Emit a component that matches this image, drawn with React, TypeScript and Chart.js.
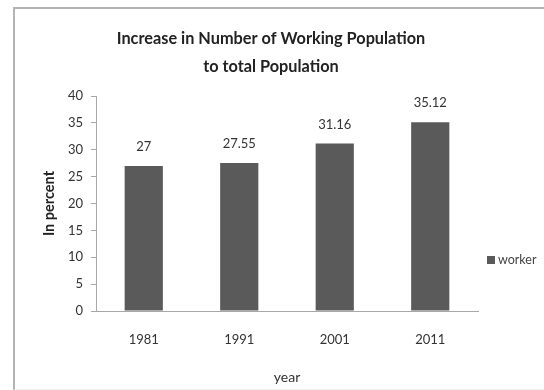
import React, { useEffect, useRef } from "react";
import { Chart, registerables } from "chart.js";

Chart.register(...registerables);

const categories: string[] = ["1981", "1991", "2001", "2011"];
const workerValues: number[] = [27, 27.55, 31.16, 35.12];
const valueLabels: string[] = ["27", "27.55", "31.16", "35.12"];
const seriesName = "worker";
const titleLines: string[] = ["Increase in Number of Working Population", "to total Population"];
const yAxisTitle = "In percent";
const xAxisTitle = "year";

const BAR_COLOR = "#5a5a5a";
const FONT = "Lato, 'Open Sans', sans-serif";

const valueLabelPlugin = {
  id: "valueLabels",
  afterDatasetsDraw(chart: any) {
    const { ctx } = chart;
    const meta = chart.getDatasetMeta(0);
    ctx.save();
    ctx.font = `13px ${FONT}`;
    ctx.fillStyle = "#333";
    ctx.textAlign = "center";
    ctx.textBaseline = "middle";
    meta.data.forEach((el: any, i: number) => {
      ctx.fillText(valueLabels[i], el.x, el.y - 19);
    });
    ctx.restore();
  },
};

const sideLegendPlugin = {
  id: "sideLegend",
  afterDraw(chart: any) {
    const { ctx } = chart;
    const ds = chart.data.datasets[0];
    ctx.save();
    ctx.fillStyle = ds.backgroundColor;
    ctx.fillRect(487, 256, 8, 8);
    ctx.font = `12.5px ${FONT}`;
    ctx.fillStyle = "#444";
    ctx.textAlign = "left";
    ctx.textBaseline = "middle";
    ctx.fillText(ds.label, 498, 260);
    ctx.restore();
  },
};

export default function App() {
  const canvasRef = useRef<HTMLCanvasElement | null>(null);

  useEffect(() => {
    document.body.style.margin = "0";
    const canvas = canvasRef.current;
    if (!canvas) return;
    const chart = new Chart(canvas, {
      type: "bar",
      data: {
        labels: categories,
        datasets: [
          {
            label: seriesName,
            data: workerValues,
            backgroundColor: BAR_COLOR,
            borderWidth: 0,
            barPercentage: 0.4,
            categoryPercentage: 1,
          },
        ],
      },
      options: {
        responsive: false,
        animation: false,
        layout: { padding: { left: 64, right: 66, top: 0, bottom: 0 } },
        plugins: {
          legend: { display: false },
          tooltip: { enabled: false },
          title: {
            display: true,
            text: titleLines,
            color: "#222",
            font: { family: FONT, size: 16.3, weight: "bold", lineHeight: 1.72 },
            padding: { top: 25, bottom: 15 },
          },
        },
        scales: {
          x: {
            grid: { display: false, drawTicks: false },
            border: { display: true, color: "#a8a8a8", width: 1 },
            ticks: { color: "#333", font: { family: FONT, size: 13 }, padding: 21 },
            title: {
              display: true,
              text: xAxisTitle,
              color: "#333",
              font: { family: FONT, size: 14 },
              padding: { top: 0, bottom: 4 },
            },
            afterFit: (scale: any) => {
              scale.height = 79;
            },
          },
          y: {
            min: 0,
            max: 40,
            ticks: { stepSize: 5, color: "#333", font: { family: FONT, size: 13 }, padding: 8 },
            grid: { drawOnChartArea: false, drawTicks: true, tickLength: 5, color: "#a8a8a8" },
            border: { display: true, color: "#a8a8a8", width: 1 },
            title: {
              display: true,
              text: yAxisTitle,
              color: "#222",
              font: { family: FONT, size: 14.5, weight: "bold" },
              padding: { top: -23.7, bottom: 0 },
            },
            afterFit: (scale: any) => {
              scale.width = 32;
            },
          },
        },
      },
      plugins: [valueLabelPlugin, sideLegendPlugin],
    });
    return () => chart.destroy();
  }, []);

  return (
    <div style={{ position: "relative", width: 544, height: 390, background: "#fff", overflow: "hidden" }}>
      <canvas ref={canvasRef} width={544} height={390} style={{ position: "absolute", left: 0, top: 0 }} />
      <div
        style={{
          position: "absolute",
          left: 13,
          top: 7,
          width: 560,
          height: 380,
          borderLeft: "2px solid #b4b4b4",
          borderTop: "2px solid #b4b4b4",
          borderBottom: "1px solid #eeeeee",
          pointerEvents: "none",
        }}
      />
    </div>
  );
}
